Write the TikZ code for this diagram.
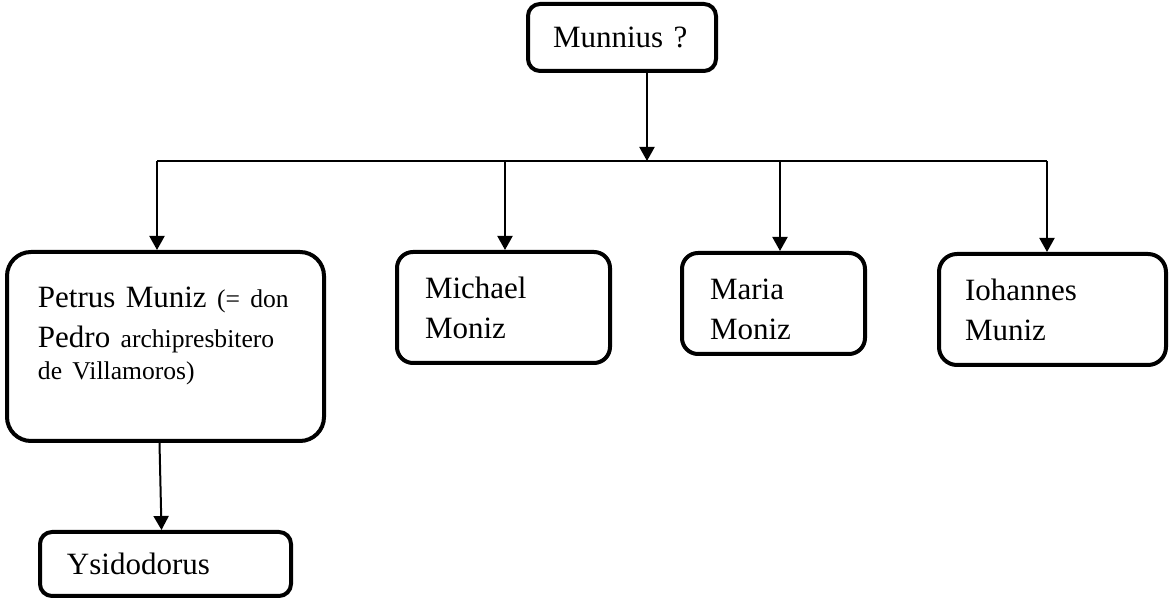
\documentclass[tikz,border=0pt]{standalone}
\usepackage{fontspec}
\setmainfont{Liberation Serif}
\usetikzlibrary{arrows.meta, positioning}

\tikzset{
  person/.style={draw, line width=2pt, rounded corners=#1, anchor=north west,
    align=left, font=\fontsize{15.5}{20}\selectfont},
  person/.default=8pt,
  descent/.style={-{Triangle[width=7.5pt, length=7pt]}, line width=1pt},
  sibline/.style={line width=0.9pt}
}
\newcommand{\sm}{\fontsize{12.8}{16}\selectfont}

\begin{document}
\begin{tikzpicture}[x=0.5pt, y=-0.5pt]
  \useasboundingbox (0,0) rectangle (1169,603);
  % the father
  \node[person=6pt, inner xsep=12.5pt, text width=69pt, minimum height=33.5pt] (munnius) at (526,2) {Munnius~?};
  % his four children
  \node[person=12pt, inner xsep=15.5pt, text width=127.5pt, minimum height=94.5pt] (petrus) at (5,250)
    {Petrus~Muniz~{\sm(=~don}\\Pedro~{\sm archipresbitero}\\[-4pt]{\sm de~Villamoros)}\rule[-13pt]{0pt}{13pt}};
  \node[person=8pt, inner xsep=14pt, text width=78.5pt, minimum height=55.5pt] (michael) at (395,250) {Michael\\Moniz};
  \node[person=8pt, inner xsep=14pt, text width=63.5pt, minimum height=50.5pt] (maria) at (680,251) {\rule{0pt}{16.5pt}Maria\\Moniz};
  \node[person=9pt, inner xsep=13pt, text width=87.5pt, minimum height=55.5pt] (iohannes) at (937,252) {Iohannes\\Muniz};
  % grandson
  \node[person=6pt, inner xsep=13.5pt, text width=98.5pt, minimum height=32pt] (ysidodorus) at (38,530) {Ysidodorus};

  % sibling bar
  \foreach \kid/\x in {petrus/157, michael/505, maria/780, iohannes/1047}
    \coordinate (bar\kid) at (\x,161);
  \coordinate (barmid) at (647,161);
  \draw[sibline] (barpetrus) -- (bariohannes);
  \draw[descent] (munnius.south -| barmid) -- (barmid);
  \foreach \kid in {petrus, michael, maria, iohannes}
    \draw[descent] (bar\kid) -- (bar\kid |- \kid.north);
  \draw[descent] ([xshift=-3pt]petrus.south) -- ([xshift=-2pt]ysidodorus.north);
\end{tikzpicture}
\end{document}
